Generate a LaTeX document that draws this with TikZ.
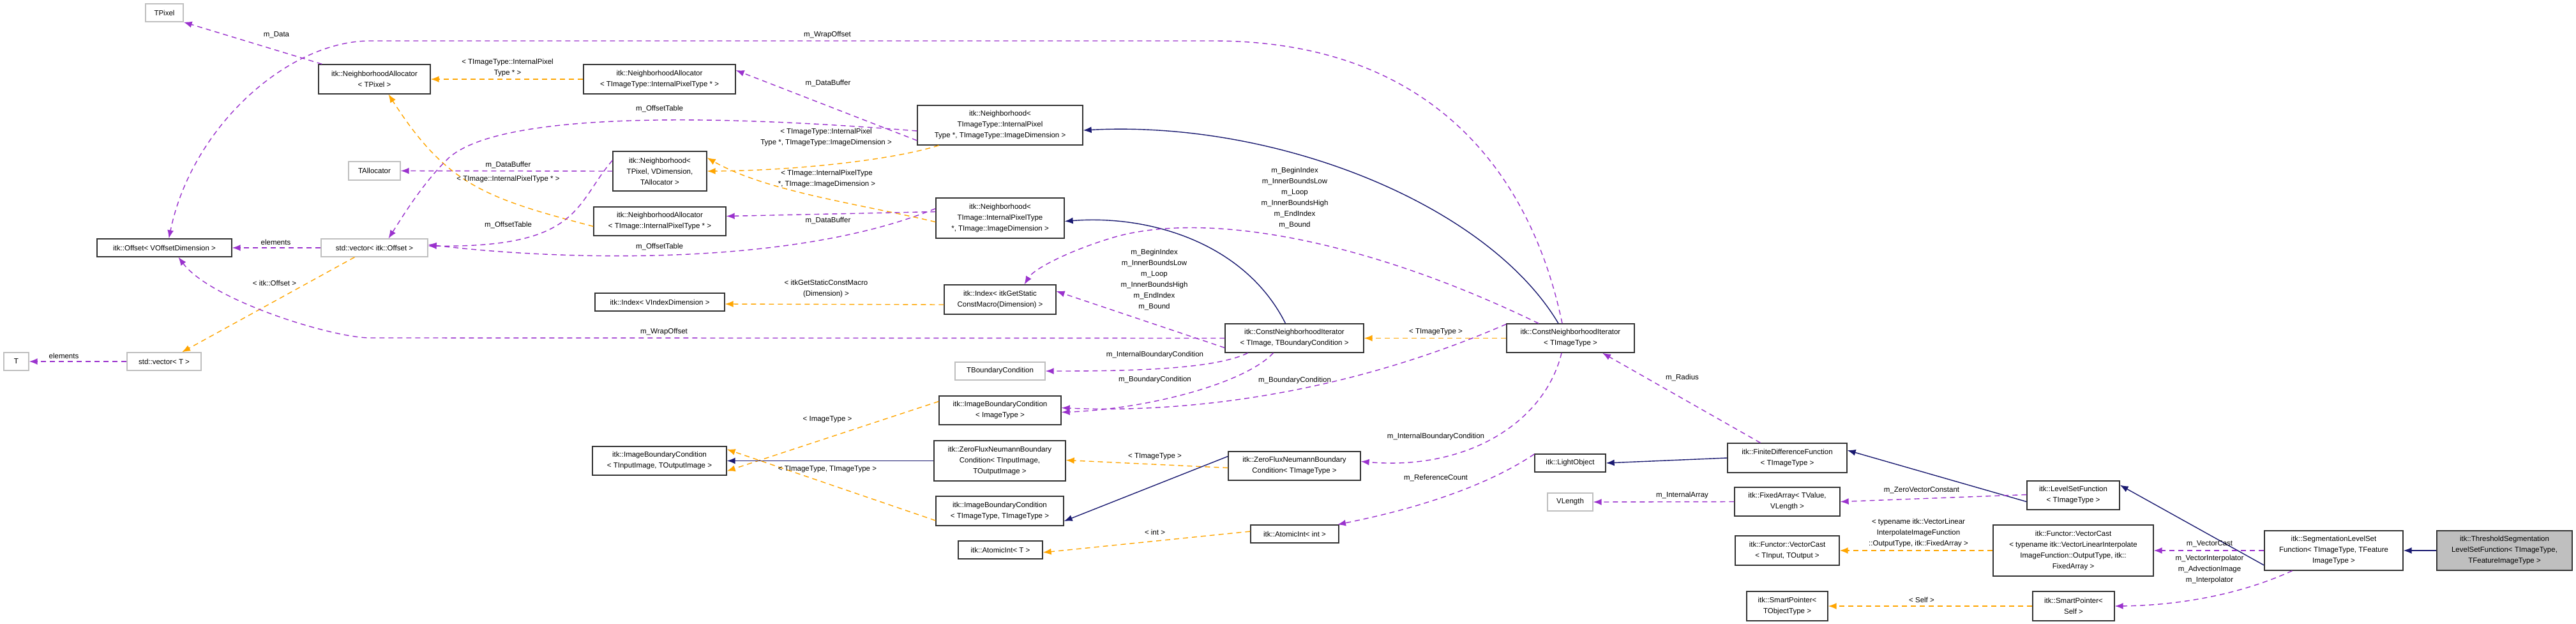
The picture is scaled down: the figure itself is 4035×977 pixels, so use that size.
\documentclass[tikz,border=0pt]{standalone}
\usepackage{fontspec}
\setmainfont{Liberation Sans}
\usetikzlibrary{arrows.meta}
\definecolor{usec}{HTML}{9A32CD}
\definecolor{tplc}{HTML}{FFA500}
\definecolor{inhc}{HTML}{191970}
\definecolor{greyb}{HTML}{BFBFBF}
\begin{document}
\begin{tikzpicture}[x=1pt,y=-1pt,
  every node/.style={font=\fontsize{11.5}{17}\selectfont, inner sep=2pt},
  box/.style={draw=black!80, line width=1.3pt, fill=white, align=center},
  gbox/.style={draw=greyb, line width=1.3pt, fill=white, align=center},
  lab/.style={align=center, fill=none},
  tip/.style={-{Latex[length=13pt,width=10pt]}},
  usel/.style={tip, draw=usec, dash pattern=on 8pt off 6pt, line width=1.4pt},
  tpl/.style={tip, draw=tplc, dash pattern=on 8pt off 6pt, line width=1.4pt},
  inh/.style={tip, draw=inhc, line width=1.4pt}]
\useasboundingbox (0,0) rectangle (4035,977);
% nodes
\node[gbox,minimum width=59,minimum height=28] (TPixel) at (257.5,20) {TPixel};
\node[box,minimum width=175,minimum height=46] (naP) at (586.5,124) {itk::NeighborhoodAllocator\\< TPixel >};
\node[gbox,minimum width=81,minimum height=29] (TAlloc) at (586.5,267.5) {TAllocator};
\node[box,minimum width=211,minimum height=28] (off) at (257.5,388) {itk::Offset< VOffsetDimension >};
\node[gbox,minimum width=167,minimum height=28] (vecO) at (586.5,388) {std::vector< itk::Offset >};
\node[gbox,minimum width=39,minimum height=28] (T) at (25.5,566) {T};
\node[gbox,minimum width=116,minimum height=28] (vecT) at (257,566) {std::vector< T >};
\node[box,minimum width=210,minimum height=45] (ibcIO) at (1033,721.5) {itk::ImageBoundaryCondition\\< TInputImage, TOutputImage >};
\node[box,minimum width=238,minimum height=46] (naTT) at (1033,124) {itk::NeighborhoodAllocator\\< TImageType::InternalPixelType * >};
\node[box,minimum width=259,minimum height=62] (nTT) at (1566.5,196) {itk::Neighborhood<\\ TImageType::InternalPixel\\Type *, TImageType::ImageDimension >};
\node[box,minimum width=147,minimum height=62] (nP) at (1033.5,268) {itk::Neighborhood<\\ TPixel, VDimension,\\ TAllocator >};
\node[box,minimum width=207,minimum height=45] (naTI) at (1033.5,346.5) {itk::NeighborhoodAllocator\\< TImage::InternalPixelType * >};
\node[box,minimum width=201,minimum height=63] (nTI) at (1566.5,341.5) {itk::Neighborhood<\\ TImage::InternalPixelType\\ *, TImage::ImageDimension >};
\node[box,minimum width=203,minimum height=28] (idxV) at (1033.5,473) {itk::Index< VIndexDimension >};
\node[box,minimum width=175,minimum height=46] (idxS) at (1566.5,469) {itk::Index< itkGetStatic\\ConstMacro(Dimension) >};
\node[gbox,minimum width=141,minimum height=28] (tbc) at (1566.5,581) {TBoundaryCondition};
\node[box,minimum width=191,minimum height=45] (ibcI) at (1566.5,642.5) {itk::ImageBoundaryCondition\\< ImageType >};
\node[box,minimum width=206,minimum height=63] (zfIO) at (1566,721.5) {itk::ZeroFluxNeumannBoundary\\Condition< TInputImage,\\ TOutputImage >};
\node[box,minimum width=200,minimum height=46] (ibcTT) at (1566,800) {itk::ImageBoundaryCondition\\< TImageType, TImageType >};
\node[box,minimum width=132,minimum height=28] (aiT) at (1567,861) {itk::AtomicInt< T >};
\node[box,minimum width=217,minimum height=45] (cniI) at (2027.5,529.5) {itk::ConstNeighborhoodIterator\\< TImage, TBoundaryCondition >};
\node[box,minimum width=200,minimum height=45] (cniT) at (2460,529.5) {itk::ConstNeighborhoodIterator\\< TImageType >};
\node[box,minimum width=207,minimum height=45] (zfT) at (2027.5,729.5) {itk::ZeroFluxNeumannBoundary\\Condition< TImageType >};
\node[box,minimum width=138,minimum height=28] (aiI) at (2028,836) {itk::AtomicInt< int >};
\node[box,minimum width=111,minimum height=28] (light) at (2459.5,725) {itk::LightObject};
\node[box,minimum width=187,minimum height=46] (fdf) at (2799.5,717) {itk::FiniteDifferenceFunction\\< TImageType >};
\node[gbox,minimum width=71,minimum height=28] (vlen) at (2459.5,786) {VLength};
\node[box,minimum width=165,minimum height=45] (fa) at (2799.5,785.5) {itk::FixedArray< TValue,\\ VLength >};
\node[box,minimum width=163,minimum height=46] (vcI) at (2799.5,862) {itk::Functor::VectorCast\\< TInput, TOutput >};
\node[box,minimum width=127,minimum height=46] (spO) at (2799.5,949) {itk::SmartPointer<\\ TObjectType >};
\node[box,minimum width=145,minimum height=45] (lsf) at (3247.5,775.5) {itk::LevelSetFunction\\< TImageType >};
\node[box,minimum width=251,minimum height=80] (vcT) at (3247.5,862) {itk::Functor::VectorCast\\< typename itk::VectorLinearInterpolate\\ImageFunction::OutputType, itk::\\FixedArray >};
\node[box,minimum width=128,minimum height=46] (spS) at (3248,949) {itk::SmartPointer<\\ Self >};
\node[box,minimum width=217,minimum height=62] (slsf) at (3655.5,862) {itk::SegmentationLevelSet\\Function< TImageType, TFeature\\ ImageType >};
\node[box,fill=black!25,minimum width=212,minimum height=62] (thr) at (3923,862) {itk::ThresholdSegmentation\\LevelSetFunction< TImageType,\\ TFeatureImageType >};
% edges
\draw[usel] ([xshift=6]naP.north west) -- (TPixel.south east);
\node[lab] (l1) at (433,55) {m\_Data};
\draw[tpl] (naTT.west) -- (naP.east);
\node[lab] (l2) at (795,106) {< TImageType::InternalPixel\\Type * >};
\draw[tpl] ([yshift=-8]naTI.west) .. controls (760,310) and (700,290) .. ([xshift=22]naP.south);
\node[lab] (l3) at (796,281) {< TImage::InternalPixelType * >};
\draw[usel] (nP.west) -- (TAlloc.east);
\node[lab] (l4) at (796,258) {m\_DataBuffer};
\draw[usel] ([yshift=17]nP.west) .. controls (900,320) and (910,388) .. ([yshift=3]vecO.east);
\node[lab] (l5) at (796,352) {m\_OffsetTable};
\draw[usel] ([yshift=-9]nTT.west) .. controls (1000,170) and (760,190) .. (700,250) .. controls (660,290) and (630,340) .. ([xshift=22]vecO.north);
\node[lab] (l6) at (1033,170) {m\_OffsetTable};
\draw[usel] ([yshift=15]nTI.west) .. controls (1250,415) and (900,410) .. ([yshift=5]vecO.east);
\node[lab] (l7) at (1033,386) {m\_OffsetTable};
\draw[usel] ([yshift=-24]nTT.west) -- ([yshift=14]naTT.east);
\node[lab] (l8) at (1297,130) {m\_DataBuffer};
\draw[tpl] ([xshift=-96]nTT.south) .. controls (1400,250) and (1250,267) .. (nP.east);
\node[lab] (l9) at (1294,215) {< TImageType::InternalPixel\\Type *, TImageType::ImageDimension >};
\draw[tpl] ([yshift=-6]nTI.west) .. controls (1350,320) and (1200,300) .. ([yshift=21]nP.east);
\node[lab] (l10) at (1295,280) {< TImage::InternalPixelType\\*, TImage::ImageDimension >};
\draw[usel] ([yshift=10]nTI.west) -- ([yshift=8]naTI.east);
\node[lab] (l11) at (1297,345) {m\_DataBuffer};
\draw[usel] (vecO.west) -- (off.east);
\node[lab] (l12) at (432,379) {elements};
\draw[tpl] ([xshift=-31]vecO.south) -- ([xshift=28]vecT.north);
\node[lab] (l13) at (430,443) {< itk::Offset >};
\draw[usel] (vecT.west) -- (T.east);
\node[lab] (l14) at (100,557) {elements};
\draw[usel] ([xshift=-13]cniT.north) .. controls (2400,280) and (2250,64) .. (1900,64) -- (580,64) .. controls (450,64) and (300,200) .. ([xshift=7]off.north);
\node[lab] (l15) at (1296,55) {m\_WrapOffset};
\draw[usel] (cniI.west) -- (580,529) .. controls (520,529) and (330,470) .. ([xshift=22]off.south);
\node[lab] (l16) at (1040,520) {m\_WrapOffset};
\draw[inh] ([xshift=-14]cniI.north) .. controls (1950,380) and (1800,336) .. ([yshift=-5]nTI.east);
\draw[inh] ([xshift=-19]cniT.north) .. controls (2330,320) and (2000,188) .. ([yshift=-8]nTT.east);
\draw[tpl] (cniT.west) -- (cniI.east);
\node[lab] (l17) at (2249,520) {< TImageType >};
\draw[usel] ([yshift=-15]cniI.west) -- ([yshift=13]idxS.east);
\node[lab] (l18) at (1808,438) {m\_BeginIndex\\m\_InnerBoundsLow\\m\_Loop\\m\_InnerBoundsHigh\\m\_EndIndex\\m\_Bound};
\draw[usel] ([xshift=-50]cniT.north) .. controls (2150,380) and (1900,330) .. (1750,370) .. controls (1680,390) and (1620,420) .. ([xshift=38]idxS.north);
\node[lab] (l19) at (2028,310) {m\_BeginIndex\\m\_InnerBoundsLow\\m\_Loop\\m\_InnerBoundsHigh\\m\_EndIndex\\m\_Bound};
\draw[tpl] ([yshift=-8]idxS.west) -- ([yshift=-3]idxV.east);
\node[lab] (l20) at (1294,452) {< itkGetStaticConstMacro\\(Dimension) >};
\draw[usel] ([xshift=-73]cniI.south) .. controls (1900,580) and (1750,581) .. (tbc.east);
\node[lab] (l21) at (1809,556) {m\_InternalBoundaryCondition};
\draw[usel] ([xshift=-33]cniI.south) .. controls (1950,600) and (1800,640) .. ([yshift=-3]ibcI.east);
\node[lab] (l22) at (1809,595) {m\_BoundaryCondition};
\draw[usel] ([yshift=22]cniT.west) .. controls (2100,620) and (1850,647) .. ([yshift=4]ibcI.east);
\node[lab] (l23) at (2028,596) {m\_BoundaryCondition};
\draw[tpl] ([yshift=14]ibcI.west) -- ([yshift=-16]ibcIO.east);
\node[lab] (l24) at (1296,657) {< ImageType >};
\draw[inh] (zfIO.west) -- (ibcIO.east);
\draw[tpl] ([yshift=-15]ibcTT.west) -- ([yshift=18]ibcIO.east);
\node[lab] (l25) at (1296,735) {< TImageType, TImageType >};
\draw[tpl] ([yshift=-3]zfT.west) -- ([yshift=1]zfIO.east);
\node[lab] (l26) at (1809,715) {< TImageType >};
\draw[inh] ([yshift=15]zfT.west) -- ([yshift=-16]ibcTT.east);
\draw[usel] ([xshift=-14]cniT.south) .. controls (2420,660) and (2300,737) .. ([yshift=7]zfT.east);
\node[lab] (l27) at (2249,684) {m\_InternalBoundaryCondition};
\draw[tpl] ([yshift=4]aiI.west) -- ([yshift=-4]aiT.east);
\node[lab] (l28) at (1809,833) {< int >};
\draw[usel] ([yshift=14]light.west) .. controls (2300,780) and (2150,810) .. ([xshift=67]aiI.north);
\node[lab] (l29) at (2249,748) {m\_ReferenceCount};
\draw[inh] (fdf.west) -- (light.east);
\draw[usel] ([xshift=-42]fdf.north) -- ([xshift=50]cniT.south);
\node[lab] (l30) at (2635,591) {m\_Radius};
\draw[inh] ([yshift=-10]lsf.west) -- ([yshift=12]fdf.east);
\draw[usel] ([yshift=1]lsf.west) -- (fa.east);
\node[lab] (l31) at (3010,768) {m\_ZeroVectorConstant};
\draw[usel] (fa.west) -- (vlen.east);
\node[lab] (l32) at (2635,776) {m\_InternalArray};
\draw[tpl] (vcT.west) -- (vcI.east);
\node[lab] (l33) at (3005,835) {< typename itk::VectorLinear\\InterpolateImageFunction\\::OutputType, itk::FixedArray >};
\draw[tpl] (spS.west) -- (spO.east);
\node[lab] (l34) at (3010,939) {< Self >};
\draw[inh] ([yshift=-23]slsf.west) -- ([yshift=16]lsf.east);
\draw[usel] (slsf.west) -- (vcT.east);
\node[lab] (l35) at (3461,852) {m\_VectorCast};
\draw[usel] ([xshift=-65]slsf.south) .. controls (3500,935) and (3400,948) .. (spS.east);
\node[lab] (l36) at (3461,892) {m\_VectorInterpolator\\m\_AdvectionImage\\m\_Interpolator};
\draw[inh] (thr.west) -- (slsf.east);
\end{tikzpicture}
\end{document}
